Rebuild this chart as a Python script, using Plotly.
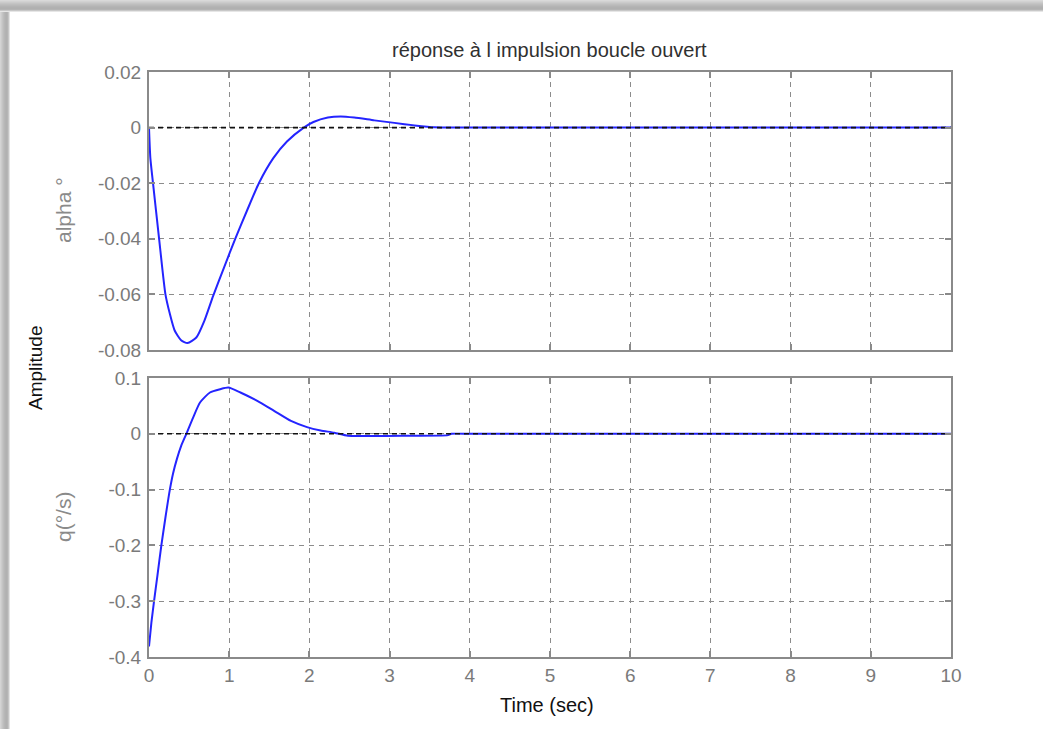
import plotly.graph_objects as go

# Open-loop impulse response: angle of attack (alpha) and pitch rate (q)
t_alpha = [0, 0.017, 0.05, 0.126, 0.205, 0.26, 0.32, 0.40, 0.48, 0.59, 0.69, 0.80,
           0.94, 1.075, 1.22, 1.37, 1.55, 1.72, 1.93, 2.05, 2.23, 2.39, 2.56, 2.81,
           3.06, 3.31, 3.56, 4, 5, 6, 7, 8, 9, 10]
alpha = [0, -0.011, -0.020, -0.040, -0.060, -0.067, -0.073, -0.0765, -0.0775, -0.0755,
         -0.0695, -0.0605, -0.050, -0.040, -0.030, -0.020, -0.011, -0.005, 0.0,
         0.002, 0.0036, 0.004, 0.0036, 0.0026, 0.0017, 0.0008, 0.0001,
         0, 0, 0, 0, 0, 0, 0]

t_q = [0, 0.03, 0.063, 0.105, 0.154, 0.205, 0.26, 0.30, 0.35, 0.40, 0.466, 0.55,
       0.636, 0.76, 0.887, 0.99, 1.14, 1.35, 1.56, 1.77, 1.97, 2.14, 2.31, 2.48,
       2.73, 3.15, 3.73, 3.77, 4, 5, 6, 7, 8, 9, 10]
q = [-0.381, -0.338, -0.300, -0.254, -0.200, -0.150, -0.100, -0.071, -0.044, -0.022,
     0.000, 0.029, 0.056, 0.074, 0.080, 0.083, 0.074, 0.059, 0.041, 0.023, 0.012,
     0.006, 0.002, -0.0036, -0.004, -0.0036, -0.0024, 0.0,
     0, 0, 0, 0, 0, 0, 0]

x_ticks = [0, 1, 2, 3, 4, 5, 6, 7, 8, 9, 10]
alpha_ticks = [-0.08, -0.06, -0.04, -0.02, 0, 0.02]
alpha_labels = ["-0.08", "-0.06", "-0.04", "-0.02", "0", "0.02"]
q_ticks = [-0.4, -0.3, -0.2, -0.1, 0, 0.1]
q_labels = ["-0.4", "-0.3", "-0.2", "-0.1", "0", "0.1"]

W, H = 1043, 729
L, R, T, B = 149, 951, 72, 657          # plot area in pixels
PW, PH = R - L, B - T


def px(xp):
    return (xp - L) / PW


def py(yp):
    return (B - yp) / PH


BLUE = "#2424ff"
GRID = "#8c8c8c"
AXIS = "#8a8a8a"
TICKFONT = dict(family="Liberation Sans, Arial, sans-serif", size=19, color="#7a7a7a")

fig = go.Figure()
fig.add_trace(go.Scatter(x=t_alpha, y=alpha, mode="lines",
                         line=dict(color=BLUE, width=2, shape="spline", smoothing=0.6),
                         xaxis="x", yaxis="y"))
fig.add_trace(go.Scatter(x=[0, 10], y=[0, 0], mode="lines",
                         line=dict(color="#111111", width=1.6, dash="5px,4px"),
                         xaxis="x", yaxis="y"))
fig.add_trace(go.Scatter(x=t_q, y=q, mode="lines",
                         line=dict(color=BLUE, width=2, shape="spline", smoothing=0.6),
                         xaxis="x2", yaxis="y2"))
fig.add_trace(go.Scatter(x=[0, 10], y=[0, 0], mode="lines",
                         line=dict(color="#111111", width=1.6, dash="5px,4px"),
                         xaxis="x2", yaxis="y2"))

axis_common = dict(showline=True, linecolor=AXIS, linewidth=2, mirror="ticks",
                   ticks="inside", ticklen=6, tickcolor=AXIS, tickwidth=1.5,
                   showgrid=True, gridcolor=GRID, gridwidth=1, griddash="5px,5px",
                   zeroline=False, tickfont=TICKFONT)

top_dom = [py(350), 1.0]
bot_dom = [0.0, py(378)]

fig.update_layout(
    width=W, height=H,
    margin=dict(l=L, r=W - R, t=T, b=H - B),
    paper_bgcolor="white", plot_bgcolor="white",
    showlegend=False,
    xaxis=dict(domain=[0, 1], range=[0, 10], tickvals=x_ticks, showticklabels=False,
               anchor="y", **axis_common),
    yaxis=dict(domain=top_dom, range=[-0.08, 0.02], tickvals=alpha_ticks,
               ticktext=alpha_labels, anchor="x", ticklabelstandoff=2, **axis_common),
    xaxis2=dict(domain=[0, 1], range=[0, 10], tickvals=x_ticks, anchor="y2",
                **axis_common),
    yaxis2=dict(domain=bot_dom, range=[-0.4, 0.1], tickvals=q_ticks,
                ticktext=q_labels, anchor="x2", ticklabelstandoff=2, **axis_common),
)

TXT = "Liberation Sans, Arial, sans-serif"
annotations = [
    dict(text="réponse à l impulsion boucle ouvert", x=px(549), y=py(50),
         font=dict(family=TXT, size=20, color="#303030")),
    dict(text="Time (sec)", x=px(547), y=py(705),
         font=dict(family=TXT, size=20, color="#111111")),
    dict(text="Amplitude", x=px(35), y=py(368), textangle=-90,
         font=dict(family=TXT, size=19, color="#111111")),
    dict(text="alpha °", x=px(63), y=py(210), textangle=-90,
         font=dict(family=TXT, size=21, color="#8a8a8a")),
    dict(text="q(°/s)", x=px(63), y=py(517), textangle=-90,
         font=dict(family=TXT, size=21, color="#8a8a8a")),
]
for a in annotations:
    a.update(xref="paper", yref="paper", showarrow=False,
             xanchor="center", yanchor="middle")
fig.update_layout(annotations=annotations)

# Soft drop-shadow strips along the top and left edges of the page
shapes = []
shade_top = ["#d9d9d9", "#d2d2d2", "#cbcbcb", "#c4c4c4", "#bebebe", "#b9b9b9",
             "#b4b4b4", "#b1b1b1", "#b0b0b0", "#b4b4b4", "#c8c8c8", "#e6e6e6"]
for i, c in enumerate(shade_top):
    shapes.append(dict(type="rect", xref="paper", yref="paper",
                       x0=px(0), x1=px(W), y0=py(i + 1), y1=py(i),
                       fillcolor=c, line=dict(width=0), layer="below"))
shade_left = ["#d4d4d4", "#cccccc", "#c4c4c4", "#bdbdbd", "#b7b7b7", "#b3b3b3",
              "#b1b1b1", "#b5b5b5", "#c6c6c6", "#e4e4e4"]
for i, c in enumerate(shade_left):
    shapes.append(dict(type="rect", xref="paper", yref="paper",
                       x0=px(i), x1=px(i + 1), y0=py(H), y1=py(12),
                       fillcolor=c, line=dict(width=0), layer="below"))
fig.update_layout(shapes=shapes)

fig.write_html("out.html")
